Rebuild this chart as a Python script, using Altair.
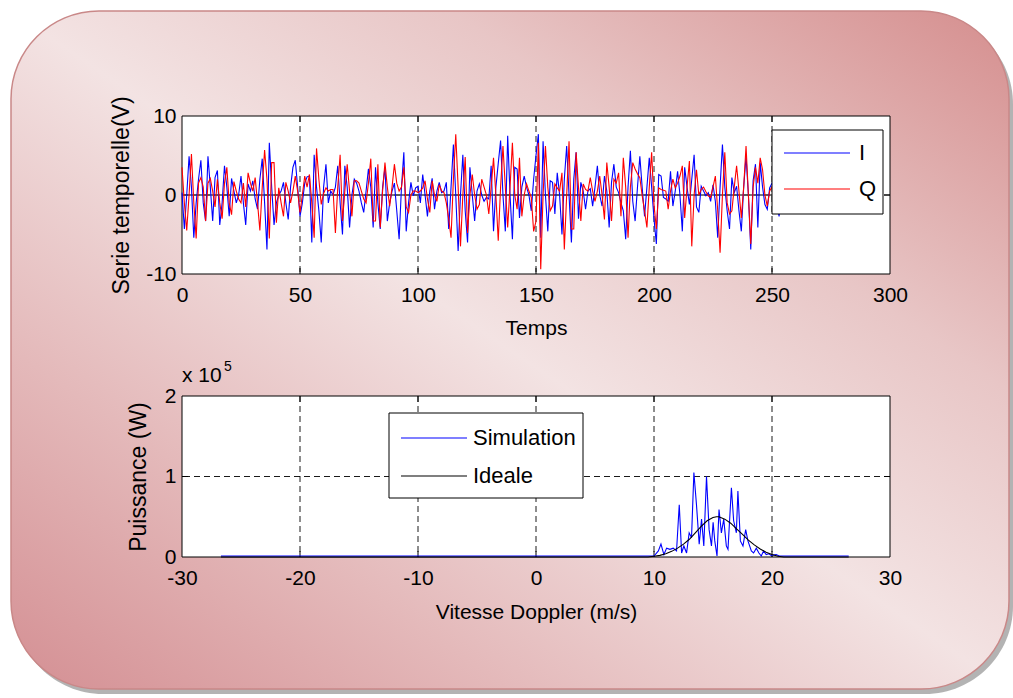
import altair as alt
import pandas as pd

FONT = "Liberation Sans"

# ---------------- time series I / Q (256 samples) ----------------
I_SERIES = [
    0.3, -4.3, 0, 4.9, 1, -5.4, -1, 2, 4.4, -1, -3.3, 4.9, 1, -3.3, 2.2, 3.1,
    -3.8, -1, 3.7, 1, -2.7, 2.1, 0.5, -1, 0, 2.4, -1, -3.8, 1.4, 0.5, 1.8, -0.5,
    -1.8, 2, 4.6, -1, -6.9, 6.6, 1, -3.8, -1, 0, 0.5, 1.6, -1, -3.1, 1, 3.5,
    4.4, 1, -2.7, -1, 1.5, 2.3, 2.4, -6, 5.1, 1, -2, -6, 1, 3.9, -1, 0.5,
    0, 1, 3.7, -1, -5, 3.7, 1, -4.1, 0, 2, 1.5, 0.5, -1, -2.2, 0.5, 3.3,
    1, -4.1, 3.5, -1, -4.3, 1, 3.5, -3.3, -1, 0.5, 1.5, -2, -5.6, 1, 5.4, -4.6,
    -1, 1.6, -0.1, 0.9, 1.1, -1, 2.6, 0, -2.7, 0.5, 2.1, -1.8, 0.5, 1.6, 0.3, 0.5,
    1.6, -4.3, 1, 6.4, 0, -7.1, 0, 5.1, -2, -6, 3.5, 0, -3.3, 0.5, 1.4, 0,
    -0.8, -0.3, -0.5, 3.7, -4.6, 1, 4, 6.9, 0, -4.6, 7.5, 0, -5.6, 3.5, 3.3, -2.9,
    1, 2.4, 1, 0, -2, 2, 5, 7.7, -5.4, 6.8, 0, -4.6, 1.8, 1.6, -2.4, 2.8,
    0, -5, 2, 6.2, 0, -6, 2, 5.4, -3, 1.6, 0.5, -1.8, 0.5, 0.8, -1.4, 1,
    3.7, 0, -1.4, 2.4, 0.5, -4.1, 1.6, 3.9, 1, 0.3, -1, -2, -5.6, 1, 5.6, -0.8,
    -3.3, 1, 4.9, 0.9, -2.7, 1, 4.7, 1, -3, -6.2, 2.6, 2.4, -0.3, -0.5, -0.8, 3,
    -1.4, 0.5, 3, 0, -4.6, 3.5, 1, -1.2, 2, 5.1, -1.5, -2.2, 1.1, 0.5, -0.1, 0.3,
    -0.8, 1.3, -0.8, -5.4, 1, 6.4, 1, -2, -4.3, 2.2, 0.3, 1.1, -2, -4.6, 1, 4.9,
    0, -6.9, 1.8, 3.9, -4.1, 4.1, 1, -1.2, -1.8, 0.9, 1.5, 0.5, -1, -2.7, 0.5, 0.3,
]
Q_SERIES = [
    3.5, -1, -4.5, 0, 5.2, -1, -5.5, 1.5, 2.2, 1, -3.3, 1.5, 2.1, 0.5, -1.5, 2,
    -1, -3, 1.5, 3.5, -1, -2.5, 1.7, 0.5, -0.5, -1, 1.5, -1.5, 2.8, 1.5, 0.5, 2.2,
    -1, -4.5, 1, 5.7, 2, -5.5, 4.1, 4.1, -3.5, 0.9, -1, -2.7, 1.6, 0.5, -1, 0.5,
    2.4, 0.5, -2.2, 0, 2.4, 1, 2.6, -1, -5.4, 5.9, 2, -1.2, 0.2, 0.9, 0.5, 0.7,
    0.7, -4.8, 1, 5.1, -3.3, 0.5, 3.9, 0.5, -2.7, 1.8, 1.8, 1.5, 0.5, -0.5, -1, 1.5,
    4.6, -3.3, -3.3, 3.9, -4.1, 0.5, 4.1, 1, -1.4, 1, 3.9, 1.5, 0.5, 1, 3.5, -1.5,
    -2.2, 0, 0.5, 0.5, 0.3, 0.5, 0.9, 1.8, -0.5, -2.2, 1.8, 0, -0.8, 1.3, 0.5, 0.3,
    -1, -3, -5.4, 2, 7.7, 1, -6.5, 0, 4.8, -4.8, 0, 2.6, 0, -1.8, -1.2, 2,
    1, 0, -2.4, 1, 4.7, 0, -5.8, 1, 6.2, 1, -4.1, 1, 6.6, 0, -1.8, 4.7,
    -2.7, 0, 1.4, 0.5, -0.3, -4.6, -3.3, 6.6, -9.4, 0, 6.2, 1, -2, -1.4, 1.4, 0.9,
    0.5, 2.8, -6.9, 0, 6.8, -4.3, -4.3, 5.4, 1, -3.3, 1.4, 0.7, 0.5, 2.2, 0.5, -0.8,
    0.5, 2.4, 0, -3.1, 4.1, 1, -3.3, 2, 1.5, 2.8, -2.7, 4.7, 1, -5.4, 1, 4.1,
    3.3, 2.7, 2.2, -0.1, -2, -4.1, 1, 5.4, -1.2, -4.3, 0.9, 0.7, 0.6, 0.5, -1.8, 0.5,
    2, 0.9, 1.5, 2.4, 3.7, -2.9, 1, 4.3, -6.5, 0, 3.2, 0, 0.7, 1, 0.4, -0.1,
    -0.3, 1, 2.4, -2, -7.3, 0, 5.4, -1, -2.4, -2, 1, 3.7, 0.5, -2.9, 1, 6.2,
    0, -6.2, 1, 3.5, 1.5, 4.7, 3.2, 0, -1.4, 0.5, 1, 0.5, -0.5, 0.2, -0.3, 0.2,
]
SERIES_NAMES = ["I", "Q"]
SERIES_COLORS = ["#0000ff", "#ff0000"]
ZERO_SPAN = [0, 255]
TOP_X_TICKS = [0, 50, 100, 150, 200, 250, 300]
TOP_Y_TICKS = [-10, 0, 10]

# ---------------- Doppler spectrum (power in units of 1e5 W) ----------------
SIM_SPEED = [
    -26.7, 9.8, 10.0, 10.37, 10.59, 10.84, 11.07, 11.35, 11.63, 11.91, 12.14,
    12.34, 12.53, 12.76, 12.98, 13.18, 13.38, 13.6, 13.83, 14.03, 14.22, 14.45,
    14.67, 14.87, 15.01, 15.15, 15.34, 15.51, 15.71, 15.91, 16.13, 16.27, 16.56,
    16.75, 16.98, 17.11, 17.32, 17.54, 17.77, 17.96, 18.25, 18.44, 18.67, 18.89,
    19.09, 19.28, 19.51, 19.73, 19.93, 20.35, 20.63, 26.5,
]
SIM_POWER = [
    0.012, 0.012, 0.012, 0.075, 0.16, 0.03, 0.11, 0.095, 0.11, 0.075, 0.65,
    0.05, 0.137, 0.05, 0.30, 0.24, 1.05, 0.65, 0.16, 0.47, 0.137, 1.0,
    0.34, 0.137, 0.43, 0.2, 0.012, 0.59, 0.3, 0.47, 0.137, 0.095, 0.86,
    0.45, 0.3, 0.82, 0.2, 0.137, 0.34, 0.2, 0.075, 0.05, 0.11, 0.05,
    0.012, 0.075, 0.03, 0.04, 0.02, 0.03, 0.012, 0.012,
]
IDEAL_SPEED = [
    -26.7, 9.5, 10, 10.5, 11, 11.5, 12, 12.5, 13, 13.5, 14, 14.5, 15, 15.3,
    15.5, 16, 16.5, 17, 17.5, 18, 18.5, 19, 19.5, 20, 20.5, 21, 26.5,
]
IDEAL_POWER = [
    0.0, 0.0, 0.01, 0.02, 0.04, 0.07, 0.11, 0.16, 0.22, 0.30, 0.38, 0.45, 0.49,
    0.50, 0.50, 0.47, 0.42, 0.35, 0.28, 0.21, 0.15, 0.10, 0.06, 0.03, 0.01, 0.0, 0.0,
]
CURVE_NAMES = ["Simulation", "Ideale"]
CURVE_COLORS = ["#0000ff", "#000000"]
BOT_X_TICKS = [-30, -20, -10, 0, 10, 20, 30]
BOT_Y_TICKS = [0, 1, 2]

W = 708
H_TOP = 158
H_BOT = 161

one = pd.DataFrame({"k": [0]})

ts = pd.DataFrame({
    "t": list(range(len(I_SERIES))) + list(range(len(Q_SERIES))),
    "v": I_SERIES + Q_SERIES,
    "serie": [SERIES_NAMES[0]] * len(I_SERIES) + [SERIES_NAMES[1]] * len(Q_SERIES),
})
spec = pd.DataFrame({
    "s": SIM_SPEED + IDEAL_SPEED,
    "p": SIM_POWER + IDEAL_POWER,
    "courbe": [CURVE_NAMES[0]] * len(SIM_SPEED) + [CURVE_NAMES[1]] * len(IDEAL_SPEED),
})

txt = dict(labelFont=FONT, labelColor="black", titleFont=FONT, titleColor="black",
           titleFontWeight="normal", labelOverlap=False, labelFlush=False,
           labelExpr="'' + datum.value",
           grid=False, domain=False, ticks=False, zindex=1)


def axis_x(values, title, pad):
    return alt.Axis(values=values, title=title, labelFontSize=21, labelPadding=10,
                    titleFontSize=21, titlePadding=pad, **txt)


def axis_y(values, title, pad):
    return alt.Axis(values=values, title=title, labelFontSize=21, labelPadding=6,
                    titleFontSize=23, titlePadding=pad, **txt)


def frame(h):
    return alt.Chart(one).mark_rect(fill="white", stroke="black", strokeWidth=1).encode(
        x=alt.value(0), x2=alt.value(W), y=alt.value(0), y2=alt.value(h))


def grid_and_ticks(xs, xenc, ys, yenc, h):
    gx = alt.Chart(pd.DataFrame({"g": xs[1:-1]})).mark_rule(
        color="black", strokeDash=[6, 4], strokeWidth=0.9).encode(x=xenc("g"))
    gy = alt.Chart(pd.DataFrame({"g": ys[1:-1]})).mark_rule(
        color="black", strokeDash=[6, 4], strokeWidth=0.9).encode(y=yenc("g"))
    tb = alt.Chart(pd.DataFrame({"g": xs[1:-1]})).mark_rule(color="black").encode(
        x=xenc("g"), y=alt.value(h), y2=alt.value(h - 6))
    tt = alt.Chart(pd.DataFrame({"g": xs[1:-1]})).mark_rule(color="black").encode(
        x=xenc("g"), y=alt.value(0), y2=alt.value(6))
    tl = alt.Chart(pd.DataFrame({"g": ys[1:-1]})).mark_rule(color="black").encode(
        y=yenc("g"), x=alt.value(0), x2=alt.value(6))
    tr = alt.Chart(pd.DataFrame({"g": ys[1:-1]})).mark_rule(color="black").encode(
        y=yenc("g"), x=alt.value(W), x2=alt.value(W - 6))
    return [gx, gy, tb, tt, tl, tr]


def legend_box(x0, y0, x1, y1, rows, line_x0, line_x1, label_x, names, colors):
    """Boxed legend (white fill, black border) with a line sample and a label per entry."""
    marks = [alt.Chart(one).mark_rect(fill="white", stroke="black", strokeWidth=1).encode(
        x=alt.value(x0), x2=alt.value(x1), y=alt.value(y0), y2=alt.value(y1))]
    for name, col, ry in zip(names, colors, rows):
        marks.append(alt.Chart(one).mark_rule(color=col, strokeWidth=1.2).encode(
            x=alt.value(line_x0), x2=alt.value(line_x1), y=alt.value(ry)))
        marks.append(alt.Chart(one).mark_text(
            text=name, font=FONT, fontSize=22, align="left", baseline="middle",
            color="black").encode(x=alt.value(label_x), y=alt.value(ry)))
    return marks


# ---------------- rounded gradient panel behind both plots ----------------
panel_fill = alt.LinearGradient(
    gradient="linear", x1=0, y1=1, x2=1, y2=0,
    stops=[
        alt.GradientStop(color="#d48f93", offset=0),
        alt.GradientStop(color="#e4b9ba", offset=0.25),
        alt.GradientStop(color="#f3e3e3", offset=0.5),
        alt.GradientStop(color="#e8c6c6", offset=0.72),
        alt.GradientStop(color="#d58e8e", offset=1),
    ],
)
shadow = alt.Chart(one).mark_rect(cornerRadius=88, fill="#808080", opacity=0.6).encode(
    x=alt.value(-167), x2=alt.value(831), y=alt.value(-100), y2=alt.value(578))
panel = alt.Chart(one).mark_rect(cornerRadius=88, fill=panel_fill, stroke="#c98888",
                                 strokeWidth=1.5).encode(
    x=alt.value(-171), x2=alt.value(827), y=alt.value(-105), y2=alt.value(573))

# ---------------- top: I / Q time series ----------------
top_xs = alt.Scale(domain=[0, 300], nice=False, zero=False)
top_ys = alt.Scale(domain=[-10, 10], nice=False)
top_xax = axis_x(TOP_X_TICKS, "Temps", 12)
top_yax = axis_y(TOP_Y_TICKS, "Serie temporelle(V)", 12)


def top_x(f):
    return alt.X(f"{f}:Q", scale=top_xs, axis=top_xax)


def top_y(f):
    return alt.Y(f"{f}:Q", scale=top_ys, axis=top_yax)


zero_line = alt.Chart(pd.DataFrame({"a": [ZERO_SPAN[0]], "b": [ZERO_SPAN[1]], "z": [0]})).mark_rule(
    color="#4d4d4d", strokeWidth=1.3).encode(x=top_x("a"), x2="b:Q", y=top_y("z"))

series = alt.Chart(ts).mark_line(strokeWidth=1.1).encode(
    x=top_x("t"), y=top_y("v"),
    color=alt.Color("serie:N", scale=alt.Scale(domain=SERIES_NAMES, range=SERIES_COLORS),
                    legend=None),
)

top = alt.layer(
    shadow, panel, frame(H_TOP),
    *grid_and_ticks(TOP_X_TICKS, top_x, TOP_Y_TICKS, top_y, H_TOP),
    zero_line, series,
    *legend_box(590, 14, 701, 98, [37, 73], 602, 668, 677, SERIES_NAMES, SERIES_COLORS),
).properties(width=W, height=H_TOP)

# ---------------- bottom: Doppler spectrum ----------------
bot_xs = alt.Scale(domain=[-30, 30], nice=False, zero=False)
bot_ys = alt.Scale(domain=[0, 2], nice=False)
bot_xax = axis_x(BOT_X_TICKS, "Vitesse Doppler (m/s)", 13)
bot_yax = axis_y(BOT_Y_TICKS, "Puissance (W)", 14)


def bot_x(f):
    return alt.X(f"{f}:Q", scale=bot_xs, axis=bot_xax)


def bot_y(f):
    return alt.Y(f"{f}:Q", scale=bot_ys, axis=bot_yax)


spectrum = alt.Chart(spec).mark_line(strokeWidth=1.1).encode(
    x=bot_x("s"), y=bot_y("p"),
    color=alt.Color("courbe:N", scale=alt.Scale(domain=CURVE_NAMES, range=CURVE_COLORS),
                    legend=None),
)
exp_base = alt.Chart(one).mark_text(text="x 10", font=FONT, fontSize=21, align="left",
                                    baseline="alphabetic", color="black").encode(
    x=alt.value(0), y=alt.value(-14))
exp_pow = alt.Chart(one).mark_text(text="5", font=FONT, fontSize=14, align="left",
                                   baseline="alphabetic", color="black").encode(
    x=alt.value(42), y=alt.value(-25))

bottom = alt.layer(
    frame(H_BOT),
    *grid_and_ticks(BOT_X_TICKS, bot_x, BOT_Y_TICKS, bot_y, H_BOT),
    spectrum, exp_base, exp_pow,
    *legend_box(207, 17, 401, 102, [42, 80], 219, 285, 291, CURVE_NAMES, CURVE_COLORS),
).properties(width=W, height=H_BOT)

chart = alt.vconcat(top, bottom, spacing=122, bounds="flush").resolve_scale(
    color="independent", x="independent", y="independent"
).properties(
    padding={"left": 10, "top": 10, "right": 0, "bottom": 5},
    background="white",
).configure_view(stroke=None)

chart.save("out.html", embed_options={"renderer": "svg", "actions": False})
